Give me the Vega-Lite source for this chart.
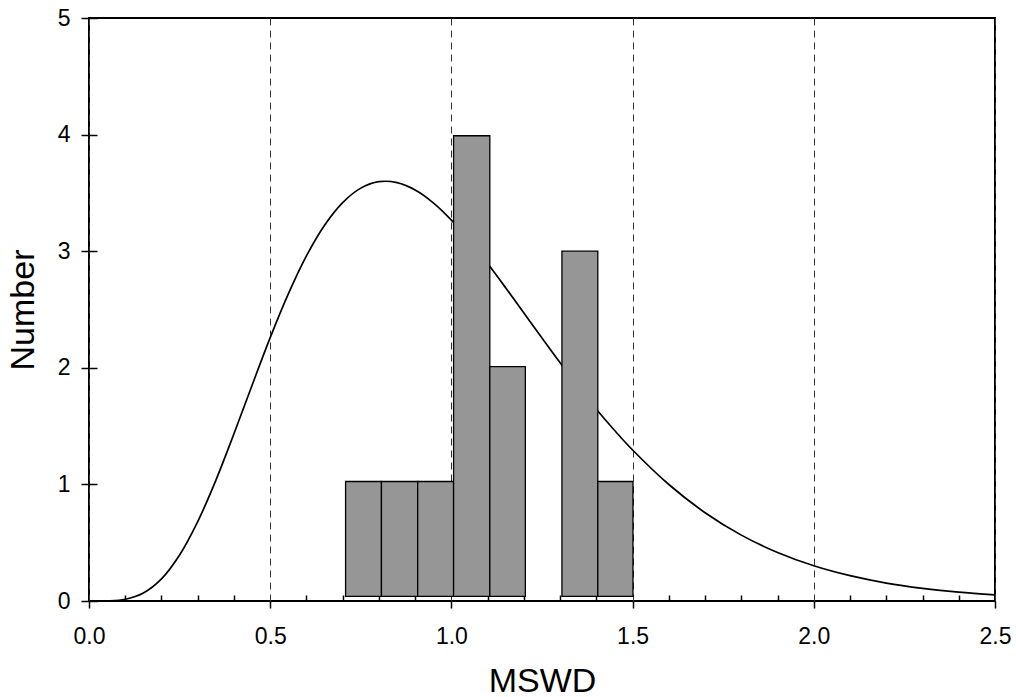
{
  "$schema": "https://vega.github.io/schema/vega-lite/v6.json",
  "autosize": "none",
  "width": 906,
  "height": 583,
  "padding": {"left": 89, "top": 18, "right": 21, "bottom": 96},
  "background": "white",
  "config": {
    "view": {"stroke": "black", "strokeWidth": 2},
    "font": "Liberation Sans"
  },
  "datasets": {
    "curve": [
      {"mswd": 0.0, "density": 0.0},
      {"mswd": 0.05, "density": 0.001},
      {"mswd": 0.1, "density": 0.015},
      {"mswd": 0.15, "density": 0.069},
      {"mswd": 0.2, "density": 0.19},
      {"mswd": 0.25, "density": 0.395},
      {"mswd": 0.3, "density": 0.681},
      {"mswd": 0.35, "density": 1.035},
      {"mswd": 0.4, "density": 1.434},
      {"mswd": 0.45, "density": 1.851},
      {"mswd": 0.5, "density": 2.259},
      {"mswd": 0.55, "density": 2.634},
      {"mswd": 0.6, "density": 2.96},
      {"mswd": 0.65, "density": 3.223},
      {"mswd": 0.7, "density": 3.417},
      {"mswd": 0.75, "density": 3.541},
      {"mswd": 0.8, "density": 3.596},
      {"mswd": 0.85, "density": 3.588},
      {"mswd": 0.9, "density": 3.525},
      {"mswd": 0.95, "density": 3.415},
      {"mswd": 1.0, "density": 3.267},
      {"mswd": 1.05, "density": 3.091},
      {"mswd": 1.1, "density": 2.894},
      {"mswd": 1.15, "density": 2.685},
      {"mswd": 1.2, "density": 2.47},
      {"mswd": 1.25, "density": 2.255},
      {"mswd": 1.3, "density": 2.043},
      {"mswd": 1.35, "density": 1.839},
      {"mswd": 1.4, "density": 1.645},
      {"mswd": 1.45, "density": 1.464},
      {"mswd": 1.5, "density": 1.295},
      {"mswd": 1.6, "density": 0.999},
      {"mswd": 1.7, "density": 0.757},
      {"mswd": 1.8, "density": 0.565},
      {"mswd": 1.9, "density": 0.416},
      {"mswd": 2.0, "density": 0.302},
      {"mswd": 2.1, "density": 0.217},
      {"mswd": 2.2, "density": 0.154},
      {"mswd": 2.3, "density": 0.109},
      {"mswd": 2.4, "density": 0.076},
      {"mswd": 2.5, "density": 0.053}
    ],
    "bars": [
      {"lo": 0.708, "hi": 0.807, "count": 1.025},
      {"lo": 0.807, "hi": 0.907, "count": 1.025},
      {"lo": 0.907, "hi": 1.006, "count": 1.025},
      {"lo": 1.006, "hi": 1.106, "count": 3.99},
      {"lo": 1.106, "hi": 1.204, "count": 2.01},
      {"lo": 1.305, "hi": 1.404, "count": 3.0},
      {"lo": 1.404, "hi": 1.501, "count": 1.025}
    ]
  },
  "layer": [
    {
      "data": {"name": "curve"},
      "mark": {"type": "line", "color": "black", "strokeWidth": 1.7, "interpolate": "catmull-rom"},
      "encoding": {
        "x": {
          "field": "mswd", "type": "quantitative",
          "scale": {"domain": [0, 2.5], "nice": false, "zero": false},
          "axis": {
            "orient": "bottom",
            "values": [0, 0.5, 1, 1.5, 2, 2.5],
            "format": ".1f",
            "domain": false,
            "tickSize": 7, "tickWidth": 1.5, "tickColor": "black",
            "labelFont": "Liberation Sans", "labelFontSize": 23, "labelColor": "black",
            "labelBaseline": "alphabetic", "labelPadding": 35,
            "labelFlush": false, "labelOverlap": false,
            "grid": true, "gridDash": [7, 5], "gridColor": "#333", "gridWidth": 1,
            "title": "MSWD",
            "titleFont": "Liberation Sans", "titleFontSize": 34, "titleFontWeight": "normal",
            "titleColor": "black", "titleBaseline": "alphabetic", "titleY": 90
          }
        },
        "y": {
          "field": "density", "type": "quantitative",
          "scale": {"domain": [0, 5], "nice": false},
          "axis": {
            "orient": "left",
            "values": [0, 1, 2, 3, 4, 5],
            "format": "d",
            "domain": false,
            "grid": false,
            "tickSize": 8, "tickWidth": 1.5, "tickColor": "black",
            "labelFont": "Liberation Sans", "labelFontSize": 23, "labelColor": "black",
            "labelPadding": 11, "labelFlush": false, "labelOverlap": false,
            "title": "Number",
            "titleFont": "Liberation Sans", "titleFontSize": 34, "titleFontWeight": "normal",
            "titleColor": "black", "titleBaseline": "alphabetic", "titleX": -56
          }
        }
      }
    },
    {
      "data": {"name": "bars"},
      "mark": {"type": "bar", "fill": "#969696", "stroke": "black", "strokeWidth": 1.3},
      "encoding": {
        "x": {
          "field": "lo", "type": "quantitative",
          "scale": {"domain": [0, 2.5], "nice": false, "zero": false},
          "axis": {
            "orient": "bottom",
            "values": [0.1, 0.2, 0.3, 0.4, 0.6, 0.7, 0.8, 0.9, 1.1, 1.2, 1.3, 1.4, 1.6, 1.7, 1.8, 1.9, 2.1, 2.2, 2.3, 2.4],
            "domain": false, "labels": false, "grid": false, "title": null,
            "tickSize": -6, "tickWidth": 1.5, "tickColor": "black"
          }
        },
        "x2": {"field": "hi"},
        "y": {
          "field": "count", "type": "quantitative",
          "scale": {"domain": [0, 5], "nice": false},
          "axis": {
            "orient": "left",
            "values": [0, 1, 2, 3, 4, 5],
            "domain": false, "labels": false, "grid": false, "title": null,
            "tickSize": -8, "tickWidth": 1.5, "tickColor": "black"
          }
        },
        "y2": {"datum": 0.04}
      }
    }
  ],
  "resolve": {"axis": {"x": "independent", "y": "independent"}}
}
